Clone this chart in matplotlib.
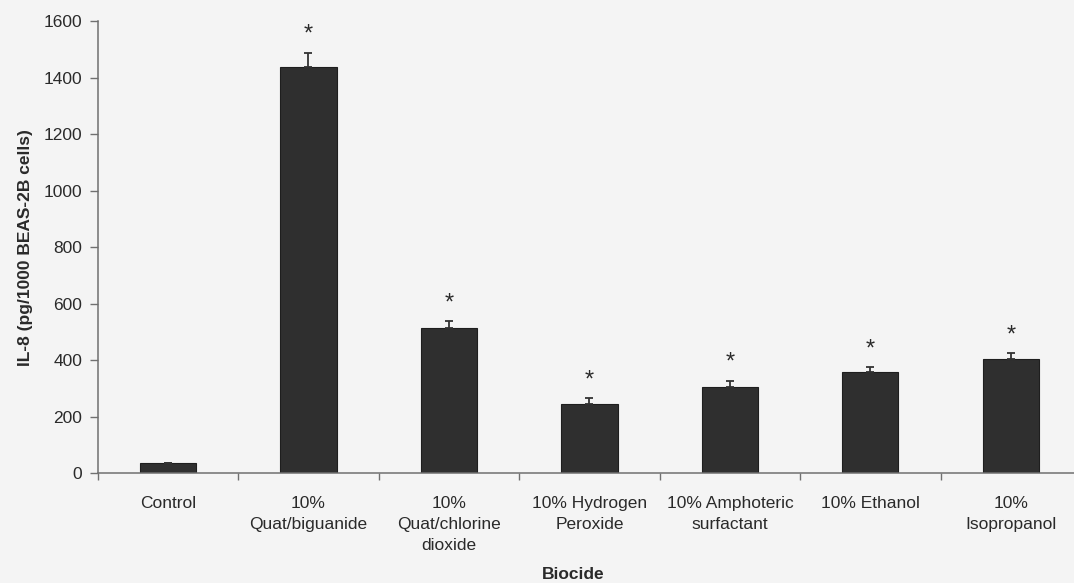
import numpy as np
import matplotlib
matplotlib.use("Agg")
import matplotlib.pyplot as plt
from matplotlib.ticker import FixedLocator, MultipleLocator

plt.rcParams["font.family"] = ["Liberation Sans", "DejaVu Sans"]

# IL-8 release per biocide (mean + upper SEM), significance marks
categories = ["Control", "10%\nQuat/biguanide", "10%\nQuat/chlorine\ndioxide",
              "10% Hydrogen\nPeroxide", "10% Amphoteric\nsurfactant",
              "10% Ethanol", "10%\nIsopropanol"]
il8_means = [36, 1439, 515, 246, 305, 357, 405]
il8_sem   = [0, 50, 24, 19, 22, 18, 20]
significant = [False, True, True, True, True, True, True]

BG      = "#f4f4f4"
BAR     = "#2f2f2f"
AXIS    = "#707070"
TEXT    = "#2a2a2a"

fig = plt.figure(figsize=(10.74, 5.83), dpi=100, facecolor=BG)
ax = fig.add_axes([0.0910, 0.1882, 0.9156, 0.7753])
ax.set_facecolor(BG)

x = np.arange(len(categories))
ax.bar(x, il8_means, width=0.40, color=BAR, edgecolor="#1e1e1e", linewidth=0.8,
       zorder=2)
ax.errorbar(x, il8_means, yerr=[np.zeros(len(x)), il8_sem], fmt="none",
            ecolor="#333333", elinewidth=1.3, capsize=3.2, capthick=1.3, zorder=3)

for xi, m, e, sig in zip(x, il8_means, il8_sem, significant):
    if sig:
        ax.annotate("*", (xi, m + e), xytext=(0, 5), textcoords="offset points",
                    ha="center", va="bottom", fontsize=17, color=TEXT)

ax.set_xlim(-0.5, len(categories) - 0.5)
ax.set_ylim(0, 1600)
ax.yaxis.set_major_locator(MultipleLocator(200))

# category labels centred, tick marks on the boundaries
ax.set_xticks(x)
ax.set_xticklabels(categories, fontsize=12.5, color=TEXT, linespacing=1.5)
ax.xaxis.set_minor_locator(FixedLocator(np.arange(-0.5, len(categories), 1.0)))
ax.tick_params(axis="x", which="major", length=0, pad=16)
ax.tick_params(axis="x", which="minor", length=5, width=1, color=AXIS,
               direction="out")
ax.tick_params(axis="y", length=6, width=1, color=AXIS, labelsize=12.5,
               labelcolor=TEXT, pad=5)

for side in ("top", "right"):
    ax.spines[side].set_visible(False)
for side in ("left", "bottom"):
    ax.spines[side].set_color(AXIS)
    ax.spines[side].set_linewidth(1.1)

ax.set_ylabel("IL-8 (pg/1000 BEAS-2B cells)", fontsize=12.5, fontweight="bold",
              color=TEXT)
ax.yaxis.set_label_coords(-0.066, 0.5)
ax.set_xlabel("Biocide", fontsize=12.5, fontweight="bold", color=TEXT)
ax.xaxis.set_label_coords(0.483, -0.207)

fig.savefig("out.png", dpi=100, facecolor=BG)
